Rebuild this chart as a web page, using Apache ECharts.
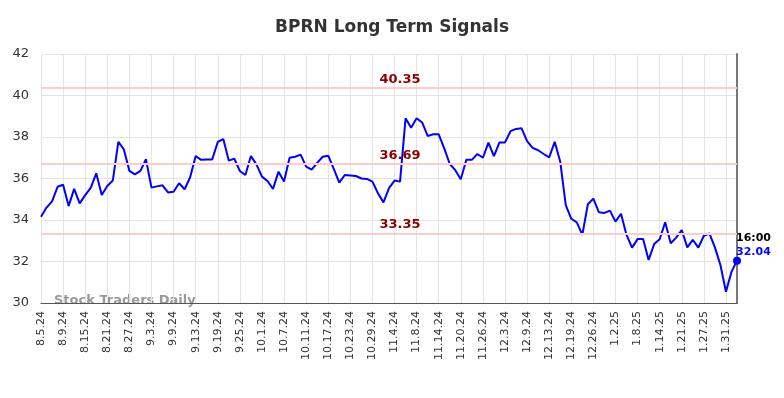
<!DOCTYPE html>
<html>
<head>
<meta charset="utf-8">
<script src="https://cdn.jsdelivr.net/npm/echarts@6/dist/echarts.min.js"></script>
<style>
  html, body { margin: 0; padding: 0; background: #fff; }
  #chart { width: 784px; height: 398px; }
</style>
</head>
<body>
<div id="chart"></div>
<script>
  // trading days, M.D.YY
  var dates = [
    '8.5.24','8.6.24','8.7.24','8.8.24','8.9.24','8.12.24','8.13.24','8.14.24','8.15.24','8.16.24',
    '8.19.24','8.20.24','8.21.24','8.22.24','8.23.24','8.26.24','8.27.24','8.28.24','8.29.24','8.30.24',
    '9.3.24','9.4.24','9.5.24','9.6.24','9.9.24','9.10.24','9.11.24','9.12.24','9.13.24','9.16.24',
    '9.17.24','9.18.24','9.19.24','9.20.24','9.23.24','9.24.24','9.25.24','9.26.24','9.27.24','9.30.24',
    '10.1.24','10.2.24','10.3.24','10.4.24','10.7.24','10.8.24','10.9.24','10.10.24','10.11.24','10.14.24',
    '10.15.24','10.16.24','10.17.24','10.18.24','10.21.24','10.22.24','10.23.24','10.24.24','10.25.24','10.28.24',
    '10.29.24','10.30.24','10.31.24','11.1.24','11.4.24','11.5.24','11.6.24','11.7.24','11.8.24','11.11.24',
    '11.12.24','11.13.24','11.14.24','11.15.24','11.18.24','11.19.24','11.20.24','11.21.24','11.22.24','11.25.24',
    '11.26.24','11.27.24','11.29.24','12.2.24','12.3.24','12.4.24','12.5.24','12.6.24','12.9.24','12.10.24',
    '12.11.24','12.12.24','12.13.24','12.16.24','12.17.24','12.18.24','12.19.24','12.20.24','12.23.24','12.24.24',
    '12.26.24','12.27.24','12.30.24','12.31.24','1.2.25','1.3.25','1.6.25','1.7.25','1.8.25','1.9.25',
    '1.10.25','1.13.25','1.14.25','1.15.25','1.16.25','1.17.25','1.21.25','1.22.25','1.23.25','1.24.25',
    '1.27.25','1.28.25','1.29.25','1.30.25','1.31.25','2.3.25','2.4.25'
  ];
  var prices = [
    34.16, 34.6, 34.9, 35.6, 35.7, 34.67, 35.5, 34.8, 35.2, 35.55,
    36.25, 35.2, 35.64, 35.9, 37.77, 37.4, 36.37, 36.2, 36.37, 36.93,
    35.56, 35.62, 35.67, 35.33, 35.36, 35.77, 35.48, 36.06, 37.08, 36.9,
    36.92, 36.92, 37.76, 37.9, 36.86, 36.96, 36.36, 36.17, 37.08, 36.68,
    36.09, 35.88, 35.5, 36.33, 35.86, 37.0, 37.05, 37.15, 36.57, 36.43,
    36.75, 37.05, 37.1, 36.46, 35.8, 36.17, 36.15, 36.12, 36.0, 35.98,
    35.85, 35.29, 34.85, 35.54, 35.9, 35.85, 38.9, 38.45, 38.9, 38.7,
    38.05, 38.13, 38.13, 37.45, 36.7, 36.4, 35.96, 36.9, 36.9, 37.18,
    37.0, 37.73, 37.08, 37.74, 37.74, 38.28, 38.39, 38.42, 37.8, 37.48,
    37.36, 37.18, 37.02, 37.77, 36.81, 34.72, 34.06, 33.89, 33.28, 34.76,
    35.03, 34.37, 34.34, 34.45, 33.92, 34.3, 33.28, 32.67, 33.08, 33.08,
    32.07, 32.84, 33.07, 33.89, 32.88, 33.15, 33.52, 32.68, 33.04, 32.67,
    33.24, 33.35, 32.68, 31.83, 30.54, 31.5, 32.04
  ];
  var signalLevels = [40.35, 36.69, 33.35];
  var yTicks = [30, 32, 34, 36, 38, 40, 42];

  var lastIdx = prices.length - 1;
  var chart = echarts.init(document.getElementById('chart'));
  var option = {
    animation: false,
    title: {
      text: 'BPRN Long Term Signals',
      left: 'center',
      top: 14,
      textStyle: { fontFamily: 'DejaVu Sans', fontSize: 17, fontWeight: 'bold', color: '#333' }
    },
    grid: { left: 41, right: 47, top: 54, bottom: 95 },
    xAxis: {
      type: 'category',
      data: dates,
      boundaryGap: false,
      axisLine: { lineStyle: { color: '#555', width: 1 } },
      axisTick: { show: false },
      axisLabel: {
        interval: 3,
        rotate: 90,
        fontFamily: 'DejaVu Sans',
        fontSize: 11,
        color: '#333',
        margin: 8
      },
      splitLine: { show: true, interval: 3, lineStyle: { color: '#e4e4e4' } }
    },
    yAxis: [{
      type: 'value',
      min: yTicks[0],
      max: yTicks[yTicks.length - 1],
      interval: 2,
      axisLine: { show: false },
      axisTick: { show: false },
      axisLabel: { fontFamily: 'DejaVu Sans', fontSize: 13, color: '#333', margin: 12 },
      splitLine: { lineStyle: { color: '#e4e4e4' } }
    }, {
      type: 'value',
      position: 'right',
      min: yTicks[0],
      max: yTicks[yTicks.length - 1],
      axisLine: { show: true, lineStyle: { color: '#777', width: 2 } },
      axisTick: { show: false },
      axisLabel: { show: false },
      splitLine: { show: false }
    }],
    graphic: [{
      type: 'text',
      left: 54,
      top: 294,
      style: {
        text: 'Stock Traders Daily',
        font: 'bold 13px "DejaVu Sans"',
        fill: '#999'
      }
    }],
    series: [{
      type: 'line',
      data: prices,
      symbol: 'none',
      lineStyle: { color: '#0000ff', width: 2 },
      markLine: {
        silent: true,
        symbol: 'none',
        lineStyle: { color: '#ffcccc', width: 2, type: 'solid' },
        label: {
          position: 'insideMiddleTop',
          distance: 2,
          padding: [0, 0, 0, 22],
          color: '#8b0000',
          fontFamily: 'DejaVu Sans',
          fontWeight: 'bold',
          fontSize: 13,
          formatter: function (p) { return p.value.toFixed(2); }
        },
        data: signalLevels.map(function (v) { return { yAxis: v }; })
      },
      markPoint: {
        symbol: 'circle',
        symbolSize: 8,
        itemStyle: { color: '#0000ff' },
        label: {
          show: true,
          position: 'right',
          distance: -4,
          offset: [-1, -16],
          fontFamily: 'DejaVu Sans',
          fontWeight: 'bold',
          fontSize: 11,
          lineHeight: 14,
          formatter: '{t|16:00}\n{v|' + prices[lastIdx].toFixed(2) + '}',
          rich: {
            t: { color: '#000', fontWeight: 'bold', fontSize: 11, fontFamily: 'DejaVu Sans' },
            v: { color: '#0000ff', fontWeight: 'bold', fontSize: 11, fontFamily: 'DejaVu Sans' }
          }
        },
        data: [{ coord: [lastIdx, prices[lastIdx]] }]
      }
    }]
  };
  chart.setOption(option);
</script>
</body>
</html>
